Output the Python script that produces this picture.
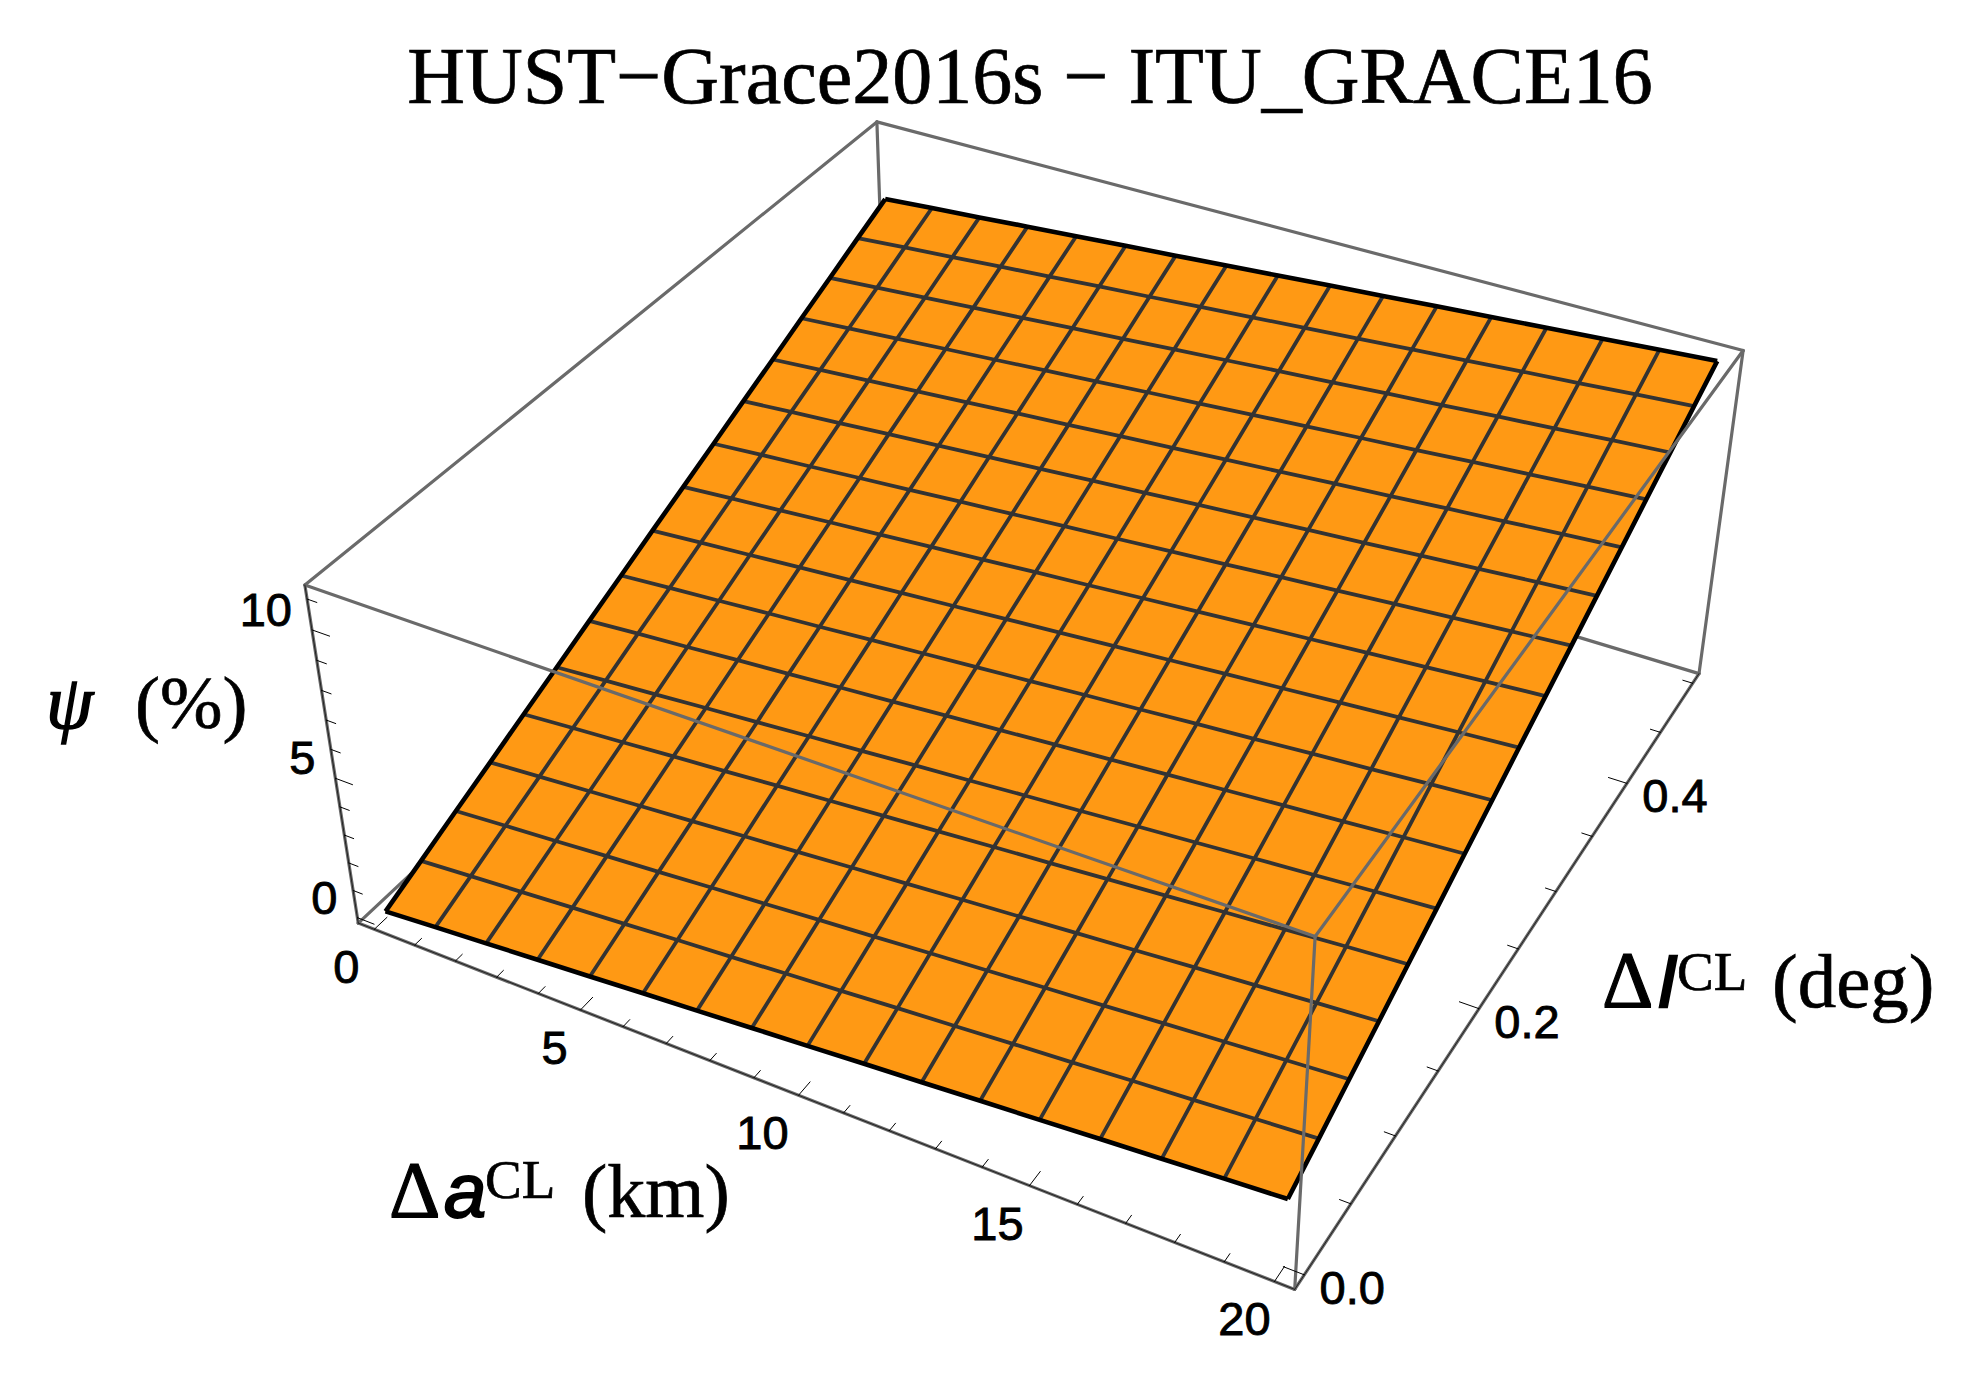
import numpy as np, pandas as pd, altair as alt

# ---------- values ----------
a_mesh = [0, 1.25, 2.5, 3.75, 5, 6.25, 7.5, 8.75, 10, 11.25, 12.5, 13.75, 15, 16.25, 17.5, 18.75, 20]
i_mesh = [0, 0.03125, 0.0625, 0.09375, 0.125, 0.15625, 0.1875, 0.21875, 0.25, 0.28125, 0.3125, 0.34375, 0.375, 0.40625, 0.4375, 0.46875, 0.5]
# psi (%) at each mesh crossing: one row per i_mesh value, one column per a_mesh value
psi_grid = [
 [0.04,0.18,0.31,0.45,0.58,0.72,0.85,0.99,1.12,1.26,1.39,1.53,1.66,1.80,1.93,2.07,2.20],
 [0.60,0.74,0.87,1.01,1.14,1.28,1.41,1.55,1.68,1.82,1.95,2.09,2.22,2.36,2.49,2.63,2.76],
 [1.17,1.31,1.44,1.58,1.71,1.85,1.98,2.12,2.25,2.39,2.52,2.66,2.79,2.93,3.06,3.20,3.33],
 [1.73,1.87,2.00,2.14,2.27,2.41,2.54,2.68,2.81,2.95,3.08,3.22,3.35,3.49,3.62,3.76,3.89],
 [2.30,2.44,2.57,2.71,2.84,2.98,3.11,3.25,3.38,3.52,3.65,3.79,3.92,4.06,4.19,4.33,4.46],
 [2.86,3.00,3.13,3.27,3.40,3.54,3.67,3.81,3.94,4.08,4.21,4.35,4.48,4.62,4.75,4.89,5.02],
 [3.43,3.57,3.70,3.84,3.97,4.11,4.24,4.38,4.51,4.65,4.78,4.92,5.05,5.19,5.32,5.46,5.59],
 [3.99,4.13,4.26,4.40,4.53,4.67,4.80,4.94,5.07,5.21,5.34,5.48,5.61,5.75,5.88,6.02,6.15],
 [4.56,4.70,4.83,4.97,5.10,5.24,5.37,5.51,5.64,5.78,5.91,6.05,6.18,6.32,6.45,6.59,6.72],
 [5.12,5.26,5.39,5.53,5.66,5.80,5.93,6.07,6.20,6.34,6.47,6.61,6.74,6.88,7.01,7.15,7.28],
 [5.68,5.82,5.95,6.09,6.22,6.36,6.49,6.63,6.76,6.90,7.03,7.17,7.30,7.44,7.57,7.71,7.84],
 [6.25,6.39,6.52,6.66,6.79,6.93,7.06,7.20,7.33,7.47,7.60,7.74,7.87,8.01,8.14,8.28,8.41],
 [6.81,6.95,7.08,7.22,7.35,7.49,7.62,7.76,7.89,8.03,8.16,8.30,8.43,8.57,8.70,8.84,8.97],
 [7.38,7.52,7.65,7.79,7.92,8.06,8.19,8.33,8.46,8.60,8.73,8.87,9.00,9.14,9.27,9.41,9.54],
 [7.94,8.08,8.21,8.35,8.48,8.62,8.75,8.89,9.02,9.16,9.29,9.43,9.56,9.70,9.83,9.97,10.10],
 [8.51,8.65,8.78,8.92,9.05,9.19,9.32,9.46,9.59,9.73,9.86,10.00,10.13,10.27,10.40,10.54,10.67],
 [9.07,9.21,9.34,9.48,9.61,9.75,9.88,10.02,10.15,10.29,10.42,10.56,10.69,10.83,10.96,11.10,11.23],
]
a_ticks = list(range(0, 21))
a_major = [0, 5, 10, 15, 20]
a_label_shift = [2, 4, -6, -2, 0]
i_ticks = [0, 0.05, 0.1, 0.15, 0.2, 0.25, 0.3, 0.35, 0.4, 0.45, 0.5]
i_major = [0, 0.2, 0.4]
i_labels = ["0.0", "0.2", "0.4"]
psi_ticks = list(range(0, 12))
psi_major = [0, 5, 10]
a_box = (-0.4, 20.4)
i_box = (-0.01, 0.51)
psi_box = (-0.2, 11.45)

# ---------- camera: 3-D box coordinates to picture pixels ----------
CAMERA = np.array([
    [-0.4200052388856936, -0.38039247050279534, 0.03983173109886964, -0.19036146693517392],
    [-0.11738528267270094, 0.21504485331004586, 0.20161445131439715, -0.49047754602952964],
    [0.05993348603736458, -0.11171262817590069, 0.03761196762766476, -0.531362884462851]])

def unit(v, box):
    return (v - box[0]) / (box[1] - box[0])

def cam(u, v, w):
    h = CAMERA @ np.array([u, v, w, 1.0])
    return float(h[0] / h[2] * 1000), float(h[1] / h[2] * 1000)

def surf(j, k):
    return cam(unit(a_mesh[k], a_box), unit(i_mesh[j], i_box), unit(psi_grid[j][k], psi_box))

# ---------- tables ----------
rows = []
for j in range(16):
    for k in range(16):
        for s, (jj, kk) in enumerate([(j, k), (j, k + 1), (j + 1, k + 1), (j + 1, k), (j, k)]):
            x, y = surf(jj, kk)
            rows.append({"cell": f"{j}-{k}", "s": s, "x": x, "y": y})
cells = pd.DataFrame(rows)

rows = []
for j in range(17):
    for k in range(17):
        x, y = surf(j, k)
        rows.append({"line": f"i{j}", "s": k, "x": x, "y": y, "edge": j in (0, 16)})
for k in range(17):
    for j in range(17):
        x, y = surf(j, k)
        rows.append({"line": f"a{k}", "s": j, "x": x, "y": y, "edge": k in (0, 16)})
mesh = pd.DataFrame(rows)
inner = mesh[~mesh.edge]
edge = mesh[mesh.edge]

def seg(p, q):
    (x, y), (x2, y2) = cam(*p), cam(*q)
    return {"x": x, "y": y, "x2": x2, "y2": y2}

A0, A1, B0, B1 = (0, 0, 0), (0, 0, 1), (1, 0, 0), (1, 0, 1)
C0, C1, D0, D1 = (1, 1, 0), (1, 1, 1), (0, 1, 0), (0, 1, 1)
back = pd.DataFrame([seg(*s) for s in [(A0, D0), (C0, D0), (D0, D1), (A1, D1), (D1, C1), (A0, A1), (C0, C1), (A0, B0), (B0, C0)]])
front = pd.DataFrame([seg(*s) for s in [(A1, B1), (B1, C1), (B1, B0)]])
axes = pd.DataFrame([seg(*s) for s in [(A0, A1), (A0, B0), (B0, C0)]])

MAJOR, MINOR = 0.02, 0.011
tk = []
for a in a_ticks:
    u = unit(a, a_box)
    tk.append(seg((u, 0, 0), (u, MAJOR if a in a_major else MINOR, 0)))
for i in i_ticks:
    v = unit(i, i_box)
    tk.append(seg((1, v, 0), (1 - (MAJOR if i in i_major else MINOR), v, 0)))
for p in psi_ticks:
    w = unit(p, psi_box)
    tk.append(seg((0, 0, w), (MAJOR if p in psi_major else MINOR, 0, w)))
ticks = pd.DataFrame(tk)

labs = []
for a, sh in zip(a_major, a_label_shift):
    x, y = cam(unit(a, a_box), 0, 0)
    labs.append({"t": str(a), "x": x - 30 + sh, "y": y + 40})
for i, s in zip(i_major, i_labels):
    x, y = cam(1, unit(i, i_box), 0)
    labs.append({"t": s, "x": x + 48, "y": y + 15})
psi_labs = []
for p in psi_major:
    x, y = cam(0, 0, unit(p, psi_box))
    psi_labs.append({"t": str(p), "x": x - 20, "y": y - 18})
labs = pd.DataFrame(labs)
psi_labs = pd.DataFrame(psi_labs)

# ---------- chart ----------
X = alt.X("x:Q", scale=alt.Scale(domain=[8, 1963], nice=False, zero=False), axis=None)
Y = alt.Y("y:Q", scale=alt.Scale(domain=[1371, 8], nice=False, zero=False), axis=None)
GRAY, ORANGE, DARK = "#6A6A6A", "#FF9914", "#333333"

def rules(df, color, width):
    return alt.Chart(df).mark_rule(color=color, strokeWidth=width, strokeCap="round").encode(
        x=X, y=Y, x2=alt.X2("x2:Q"), y2=alt.Y2("y2:Q"))

def txt(t, x, y, size, font, style="normal", weight="normal", align="left", bold=0.7):
    return alt.Chart(pd.DataFrame({"t": [t], "x": [x], "y": [y]})).mark_text(
        font=font, fontSize=size, fontStyle=style, fontWeight=weight, align=align,
        baseline="alphabetic", color="black", stroke="black", strokeWidth=bold).encode(x=X, y=Y, text="t:N")

SERIF, SANS = "Liberation Serif", "Liberation Sans"
layers = [
    rules(back, GRAY, 3.2),
    alt.Chart(cells).mark_line(filled=True, fill=ORANGE, stroke=ORANGE, strokeWidth=1).encode(
        x=X, y=Y, detail="cell:N", order="s:Q"),
    alt.Chart(inner).mark_line(color=DARK, strokeWidth=3.8).encode(x=X, y=Y, detail="line:N", order="s:Q"),
    alt.Chart(edge).mark_line(color="black", strokeWidth=4.6, strokeJoin="miter").encode(x=X, y=Y, detail="line:N", order="s:Q"),
    rules(front, GRAY, 3.2),
    rules(axes, "#222222", 1),
    rules(ticks, "black", 1),
    alt.Chart(labs).mark_text(font=SANS, fontSize=47, align="center", baseline="middle", color="black", stroke="black", strokeWidth=0.9).encode(x=X, y=Y, text="t:N"),
    alt.Chart(psi_labs).mark_text(font=SANS, fontSize=47, align="right", baseline="middle", color="black", stroke="black", strokeWidth=0.9).encode(x=X, y=Y, text="t:N"),
    txt("HUST\u2212Grace2016s \u2212 ITU_GRACE16", 1030, 103, 80, SERIF, align="center"),
    txt("\u03c8", 46, 728, 76, SERIF, style="italic", bold=1.5),
    txt("(%)", 135, 728, 75, SERIF),
    txt("\u0394", 389, 1217, 80, SERIF, bold=1.2),
    txt("a", 444, 1217, 76, SANS, style="italic", bold=2),
    txt("CL", 485, 1198, 55, SERIF),
    txt("(km)", 582, 1217, 76, SERIF),
    txt("\u0394", 1602, 1007, 80, SERIF, bold=1.2),
    txt("I", 1657, 1007, 74, SANS, style="italic", bold=2.4),
    txt("CL", 1677, 990, 55, SERIF),
    txt("(deg)", 1772, 1007, 77, SERIF),
]
chart = alt.layer(*layers).properties(width=1955, height=1363, padding=0, background="white").configure_view(stroke=None)
chart.save("out.html", embed_options={"renderer": "svg", "actions": False})
